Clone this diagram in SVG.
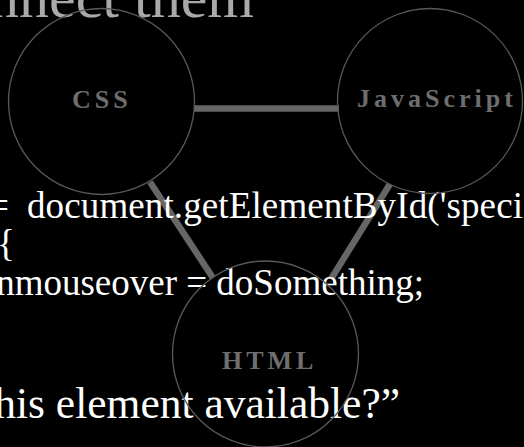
<svg xmlns="http://www.w3.org/2000/svg" width="524" height="447" viewBox="0 0 524 447">
  <style>
    .bg { fill: #000; }
    .link { stroke: #666; stroke-width: 6.5; fill: none; }
    .ring { fill: none; stroke: #595959; stroke-width: 1.3; }
    .label { font-family: "Liberation Serif", serif; font-weight: bold; font-size: 26px; letter-spacing: 4px; fill: #6e6e6e; }
    .title { font-family: "Liberation Serif", serif; font-size: 60px; fill: #a9a9a9; }
    .code { font-family: "Liberation Serif", serif; font-size: 37px; fill: #fff; }
    .question { font-family: "Liberation Serif", serif; font-size: 43.5px; fill: #fff; }
  </style>
  <rect class="bg" x="0" y="0" width="524" height="447"/>

  <!-- heading -->
  <text class="title" x="254" y="17" text-anchor="end">nnect them</text>

  <!-- connectors between the three technologies -->
  <g id="connectors">
    <line class="link" x1="194" y1="108.5" x2="339" y2="108.5"/>
    <line class="link" x1="150" y1="182" x2="213" y2="278"/>
    <line class="link" x1="390" y1="184" x2="331" y2="279"/>
  </g>

  <!-- code sample and question -->
  <g id="code">
    <text class="code" x="-12" y="218">=</text>
    <text class="code" x="27" y="218" textLength="496">document.getElementById('speci</text>
    <text class="code" x="-3" y="256">{</text>
    <text class="code" x="424" y="295" text-anchor="end">nmouseover = doSomething;</text>
    <text class="question" x="400" y="418" text-anchor="end">his element available?”</text>
  </g>

  <g id="node-css">
    <circle class="ring" cx="101.5" cy="101.5" r="93"/>
    <text class="label" x="72" y="108">CSS</text>
  </g>
  <g id="node-javascript">
    <circle class="ring" cx="430" cy="101" r="92.5"/>
    <text class="label" x="357" y="107">JavaScript</text>
  </g>
  <g id="node-html">
    <circle class="ring" cx="265.5" cy="354" r="93"/>
    <text class="label" x="222" y="369">HTML</text>
  </g>
</svg>
